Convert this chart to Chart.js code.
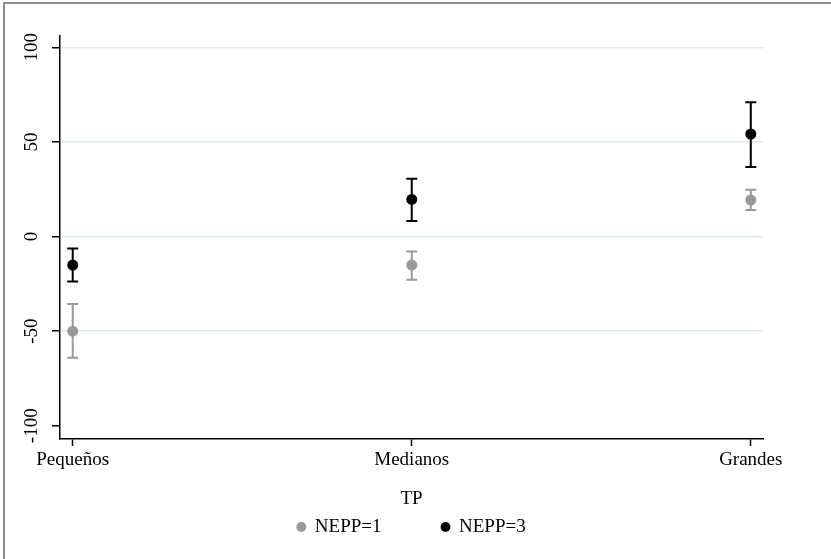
<!DOCTYPE html>
<html>
<head>
<meta charset="utf-8">
<script src="https://cdn.jsdelivr.net/npm/chart.js@4.4.1/dist/chart.umd.min.js"></script>
<style>
  html, body { margin: 0; padding: 0; background: #fff; }
  #wrap { position: relative; width: 831px; height: 559px; }
  #marco { position: absolute; left: 3px; top: 2px; right: 0; bottom: 0;
    border-top: 2px solid #8c8c8c; border-left: 2px solid #8c8c8c; pointer-events: none; }
</style>
</head>
<body>
<div id="wrap"><canvas id="grafico" width="831" height="559"></canvas><div id="marco"></div></div>
<script>
// Datos (media e intervalo por tamano)
var CATEGORIAS = ['Pequeños', 'Medianos', 'Grandes'];
var NEPP1_MEDIA = [-50, -15.1, 19.3];
var NEPP1_INF = [-64, -22.8, 14];
var NEPP1_SUP = [-35.6, -7.9, 24.7];
var NEPP3_MEDIA = [-15.1, 19.6, 54.2];
var NEPP3_INF = [-23.7, 8.2, 36.8];
var NEPP3_SUP = [-6.3, 30.5, 71];
var Y_TICKS = [-100, -50, 0, 50, 100];

var GRIS = '#999999';
var NEGRO = '#000000';
var FUENTE = { family: "'Liberation Serif', 'DejaVu Serif', serif", size: 19 };

function puntos(medias) {
  return medias.map(function (v, i) { return { x: i, y: v }; });
}

// Barras de error: se dibujan con las escalas del grafico, debajo de los puntos
var barrasError = {
  id: 'barrasError',
  beforeDatasetsDraw: function (chart) {
    var ctx = chart.ctx;
    var sx = chart.scales.x, sy = chart.scales.y;
    chart.data.datasets.forEach(function (ds) {
      ctx.save();
      ctx.strokeStyle = ds.borderColor;
      ctx.lineWidth = 2;
      ds.inf.forEach(function (lo, i) {
        var px = sx.getPixelForValue(i);
        var y1 = sy.getPixelForValue(lo), y2 = sy.getPixelForValue(ds.sup[i]);
        ctx.beginPath();
        ctx.moveTo(px, y1); ctx.lineTo(px, y2);
        ctx.moveTo(px - 5.5, y1); ctx.lineTo(px + 5.5, y1);
        ctx.moveTo(px - 5.5, y2); ctx.lineTo(px + 5.5, y2);
        ctx.stroke();
      });
      ctx.restore();
    });
  }
};

new Chart(document.getElementById('grafico'), {
  type: 'scatter',
  data: {
    datasets: [
      { label: 'NEPP=1', data: puntos(NEPP1_MEDIA), inf: NEPP1_INF, sup: NEPP1_SUP,
        backgroundColor: GRIS, borderColor: GRIS, pointRadius: 5.5, pointBorderWidth: 0 },
      { label: 'NEPP=3', data: puntos(NEPP3_MEDIA), inf: NEPP3_INF, sup: NEPP3_SUP,
        backgroundColor: NEGRO, borderColor: NEGRO, pointRadius: 5.5, pointBorderWidth: 0 }
    ]
  },
  options: {
    responsive: false,
    animation: false,
    devicePixelRatio: 1,
    layout: { padding: { left: 0, right: 68, top: 36, bottom: 12.5 } },
    plugins: {
      tooltip: { enabled: false },
      legend: {
        position: 'bottom',
        fullSize: false,
        title: { display: true, text: 'TP', color: NEGRO, font: FUENTE, padding: { top: 0, bottom: -54.8 } },
        labels: { usePointStyle: true, pointStyle: 'circle', boxWidth: 8, boxHeight: 7,
          padding: 60, color: NEGRO, font: FUENTE }
      }
    },
    scales: {
      x: {
        type: 'linear',
        min: -0.0375, max: 2.036,
        afterBuildTicks: function (s) { s.ticks = CATEGORIAS.map(function (c, i) { return { value: i }; }); },
        afterFit: function (s) { s.height = 50.5; },
        ticks: { color: NEGRO, font: FUENTE, padding: 3, maxRotation: 0,
          callback: function (v) { return CATEGORIAS[v]; } },
        grid: { drawOnChartArea: false, tickLength: 7, tickColor: NEGRO, tickWidth: 1.5 },
        border: { color: NEGRO, width: 1.5 }
      },
      y: {
        min: -107, max: 106,
        afterBuildTicks: function (s) { s.ticks = Y_TICKS.map(function (v) { return { value: v }; }); },
        afterFit: function (s) { s.width = 60; },
        ticks: { color: NEGRO, font: FUENTE, padding: 3, minRotation: 90, maxRotation: 90,
          crossAlign: 'center' },
        grid: {
          lineWidth: 1.5, tickLength: 8, tickColor: NEGRO, tickWidth: 1.5,
          color: function (c) { return c.tick && c.tick.value === -100 ? 'rgba(0,0,0,0)' : '#e0ecec'; }
        },
        border: { color: NEGRO, width: 1.5 }
      }
    }
  },
  plugins: [barrasError]
});
</script>
</body>
</html>
